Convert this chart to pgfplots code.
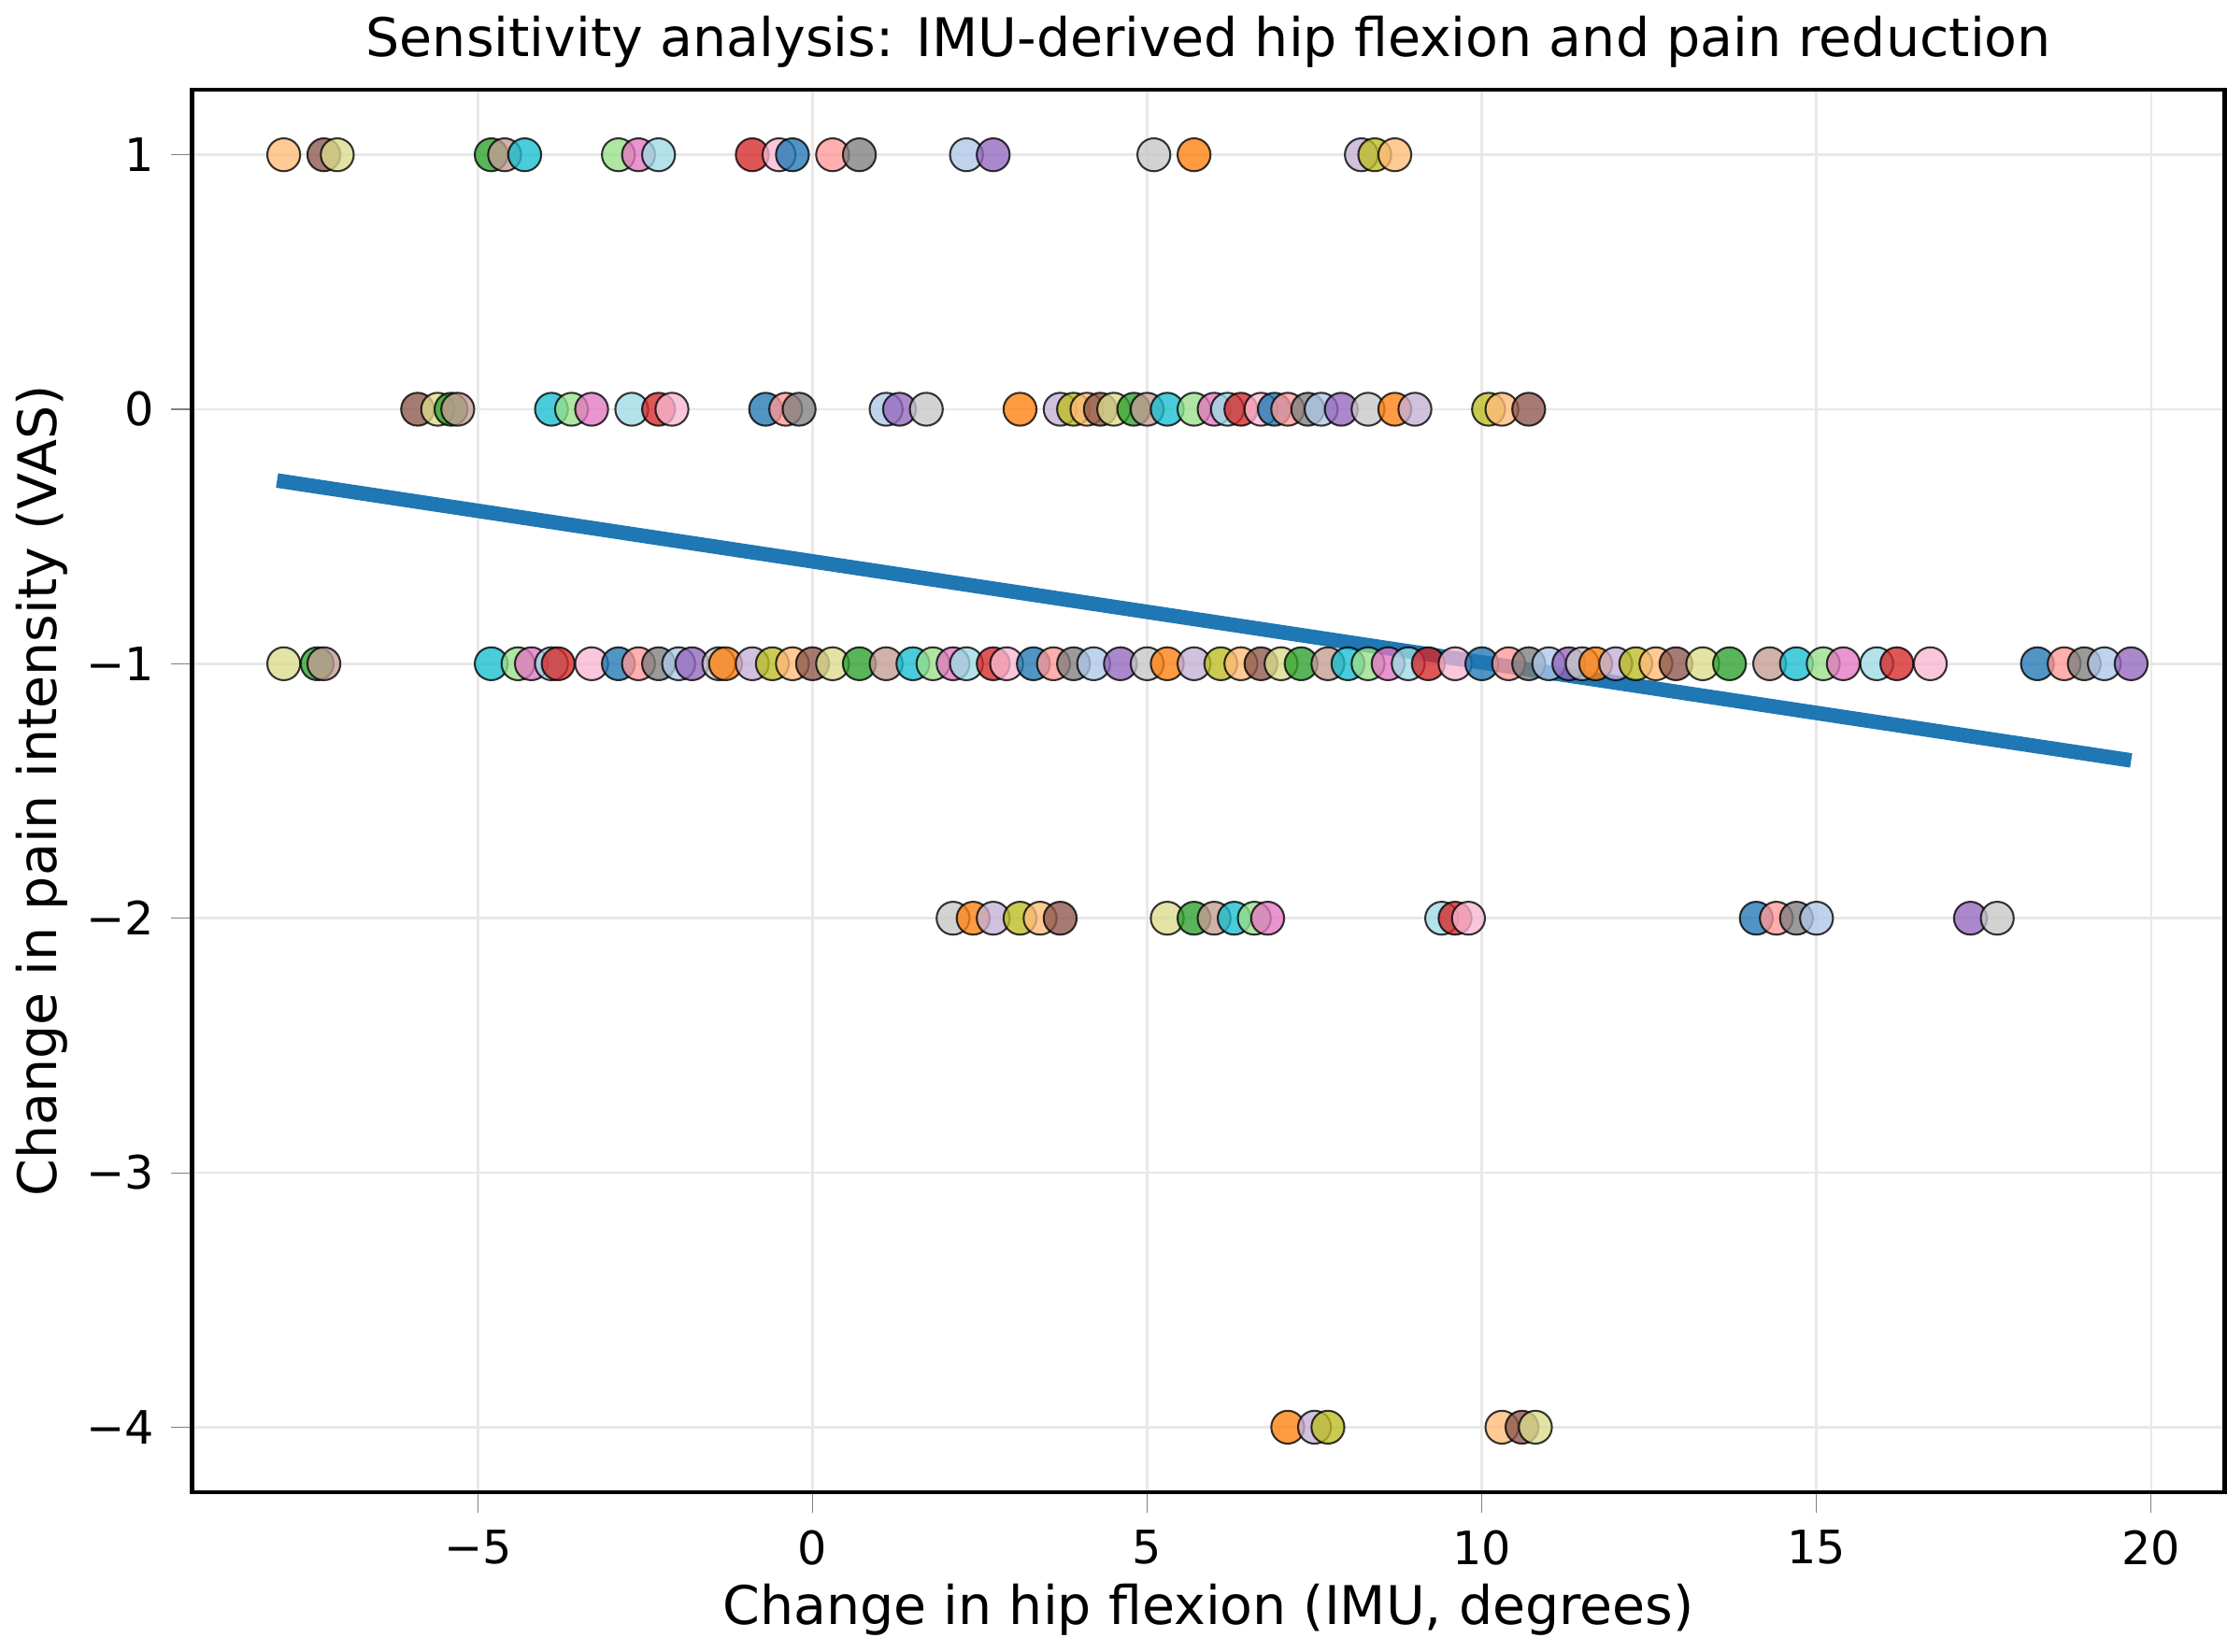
\documentclass[border=0pt]{standalone}
\usepackage{pgfplots}
\pgfplotsset{compat=1.18}
\usepackage{fontspec}
\setmainfont{DejaVu Sans}
\begin{document}
\begin{tikzpicture}
\begin{axis}[
  width=14.75cm, height=10.18cm, scale only axis,
  xmin=-9.27, xmax=21.1, ymin=-4.256, ymax=1.256,
  xtick={-5,0,5,10,15,20}, ytick={-4,-3,-2,-1,0,1},
  xticklabels={−5,0,5,10,15,20}, yticklabels={−4,−3,−2,−1,0,1},
  tick label style={font=\fontsize{9.5}{11}\selectfont},
  label style={font=\fontsize{11}{13}\selectfont},
  title style={font=\fontsize{11}{13}\selectfont, yshift=-5pt},
  title={Sensitivity analysis: IMU-derived hip flexion and pain reduction},
  xlabel={Change in hip flexion (IMU, degrees)},
  ylabel={Change in pain intensity (VAS)},
  xlabel style={yshift=3pt}, ylabel style={yshift=-3pt},
  grid=major, major grid style={gray!18, line width=0.5pt},
  tick align=outside, tick pos=left, axis line style={line width=0.9pt},
  colormap={tab20}{rgb255=(31,119,180) rgb255=(174,199,232) rgb255=(255,127,14) rgb255=(255,187,120) rgb255=(44,160,44) rgb255=(152,223,138) rgb255=(214,39,40) rgb255=(255,152,150) rgb255=(148,103,189) rgb255=(197,176,213) rgb255=(140,86,75) rgb255=(196,156,148) rgb255=(227,119,194) rgb255=(247,182,210) rgb255=(127,127,127) rgb255=(199,199,199) rgb255=(188,189,34) rgb255=(219,219,141) rgb255=(23,190,207) rgb255=(158,218,229)},
  colormap access=piecewise constant,
  point meta min=0, point meta max=20,
]
\addplot[scatter, only marks, mark=*, mark size=3.4pt, opacity=0.78,
  scatter/use mapped color={draw=none, fill=mapped color},
  point meta={mod(\coordindex*7+3,20)}] table[row sep=\\] {
x y\\
-7.9 1\\ -7.3 1\\ -7.1 1\\ -4.8 1\\ -4.6 1\\ -4.3 1\\ -2.9 1\\ -2.6 1\\ -2.3 1\\ -0.9 1\\ -0.5 1\\ -0.3 1\\ 0.3 1\\ 0.7 1\\ 2.3 1\\ 2.7 1\\ 5.1 1\\ 5.7 1\\ 8.2 1\\ 8.4 1\\ 8.7 1\\
-5.9 0\\ -5.6 0\\ -5.4 0\\ -5.3 0\\ -3.9 0\\ -3.6 0\\ -3.3 0\\ -2.7 0\\ -2.3 0\\ -2.1 0\\ -0.7 0\\ -0.4 0\\ -0.2 0\\ 1.1 0\\ 1.3 0\\ 1.7 0\\ 3.1 0\\ 3.7 0\\ 3.9 0\\ 4.1 0\\ 4.3 0\\ 4.5 0\\ 4.8 0\\ 5.0 0\\ 5.3 0\\ 5.7 0\\ 6.0 0\\ 6.2 0\\ 6.4 0\\ 6.7 0\\ 6.9 0\\ 7.1 0\\ 7.4 0\\ 7.6 0\\ 7.9 0\\ 8.3 0\\ 8.7 0\\ 9.0 0\\ 10.1 0\\ 10.3 0\\ 10.7 0\\
-7.9 -1\\ -7.4 -1\\ -7.3 -1\\ -4.8 -1\\ -4.4 -1\\ -4.2 -1\\ -3.9 -1\\ -3.8 -1\\ -3.3 -1\\ -2.9 -1\\ -2.6 -1\\ -2.3 -1\\ -2.0 -1\\ -1.8 -1\\ -1.4 -1\\ -1.3 -1\\ -0.9 -1\\ -0.6 -1\\ -0.3 -1\\ 0.0 -1\\ 0.3 -1\\ 0.7 -1\\ 1.1 -1\\ 1.5 -1\\ 1.8 -1\\ 2.1 -1\\ 2.3 -1\\ 2.7 -1\\ 2.9 -1\\ 3.3 -1\\ 3.6 -1\\ 3.9 -1\\ 4.2 -1\\ 4.6 -1\\ 5.0 -1\\ 5.3 -1\\ 5.7 -1\\ 6.1 -1\\ 6.4 -1\\ 6.7 -1\\ 7.0 -1\\ 7.3 -1\\ 7.7 -1\\ 8.0 -1\\ 8.3 -1\\ 8.6 -1\\ 8.9 -1\\ 9.2 -1\\ 9.6 -1\\ 10.0 -1\\ 10.4 -1\\ 10.7 -1\\ 11.0 -1\\ 11.3 -1\\ 11.5 -1\\ 11.7 -1\\ 12.0 -1\\ 12.3 -1\\ 12.6 -1\\ 12.9 -1\\ 13.3 -1\\ 13.7 -1\\ 14.3 -1\\ 14.7 -1\\ 15.1 -1\\ 15.4 -1\\ 15.9 -1\\ 16.2 -1\\ 16.7 -1\\ 18.3 -1\\ 18.7 -1\\ 19.0 -1\\ 19.3 -1\\ 19.7 -1\\
2.1 -2\\ 2.4 -2\\ 2.7 -2\\ 3.1 -2\\ 3.4 -2\\ 3.7 -2\\ 5.3 -2\\ 5.7 -2\\ 6.0 -2\\ 6.3 -2\\ 6.6 -2\\ 6.8 -2\\ 9.4 -2\\ 9.6 -2\\ 9.8 -2\\ 14.1 -2\\ 14.4 -2\\ 14.7 -2\\ 15.0 -2\\ 17.3 -2\\ 17.7 -2\\
7.1 -4\\ 7.5 -4\\ 7.7 -4\\ 10.3 -4\\ 10.6 -4\\ 10.8 -4\\
};
\addplot[color={rgb,255:red,31;green,119;blue,180}, line width=3pt] coordinates {(-8,-0.28) (19.7,-1.38)};
\end{axis}
\end{tikzpicture}
\end{document}
